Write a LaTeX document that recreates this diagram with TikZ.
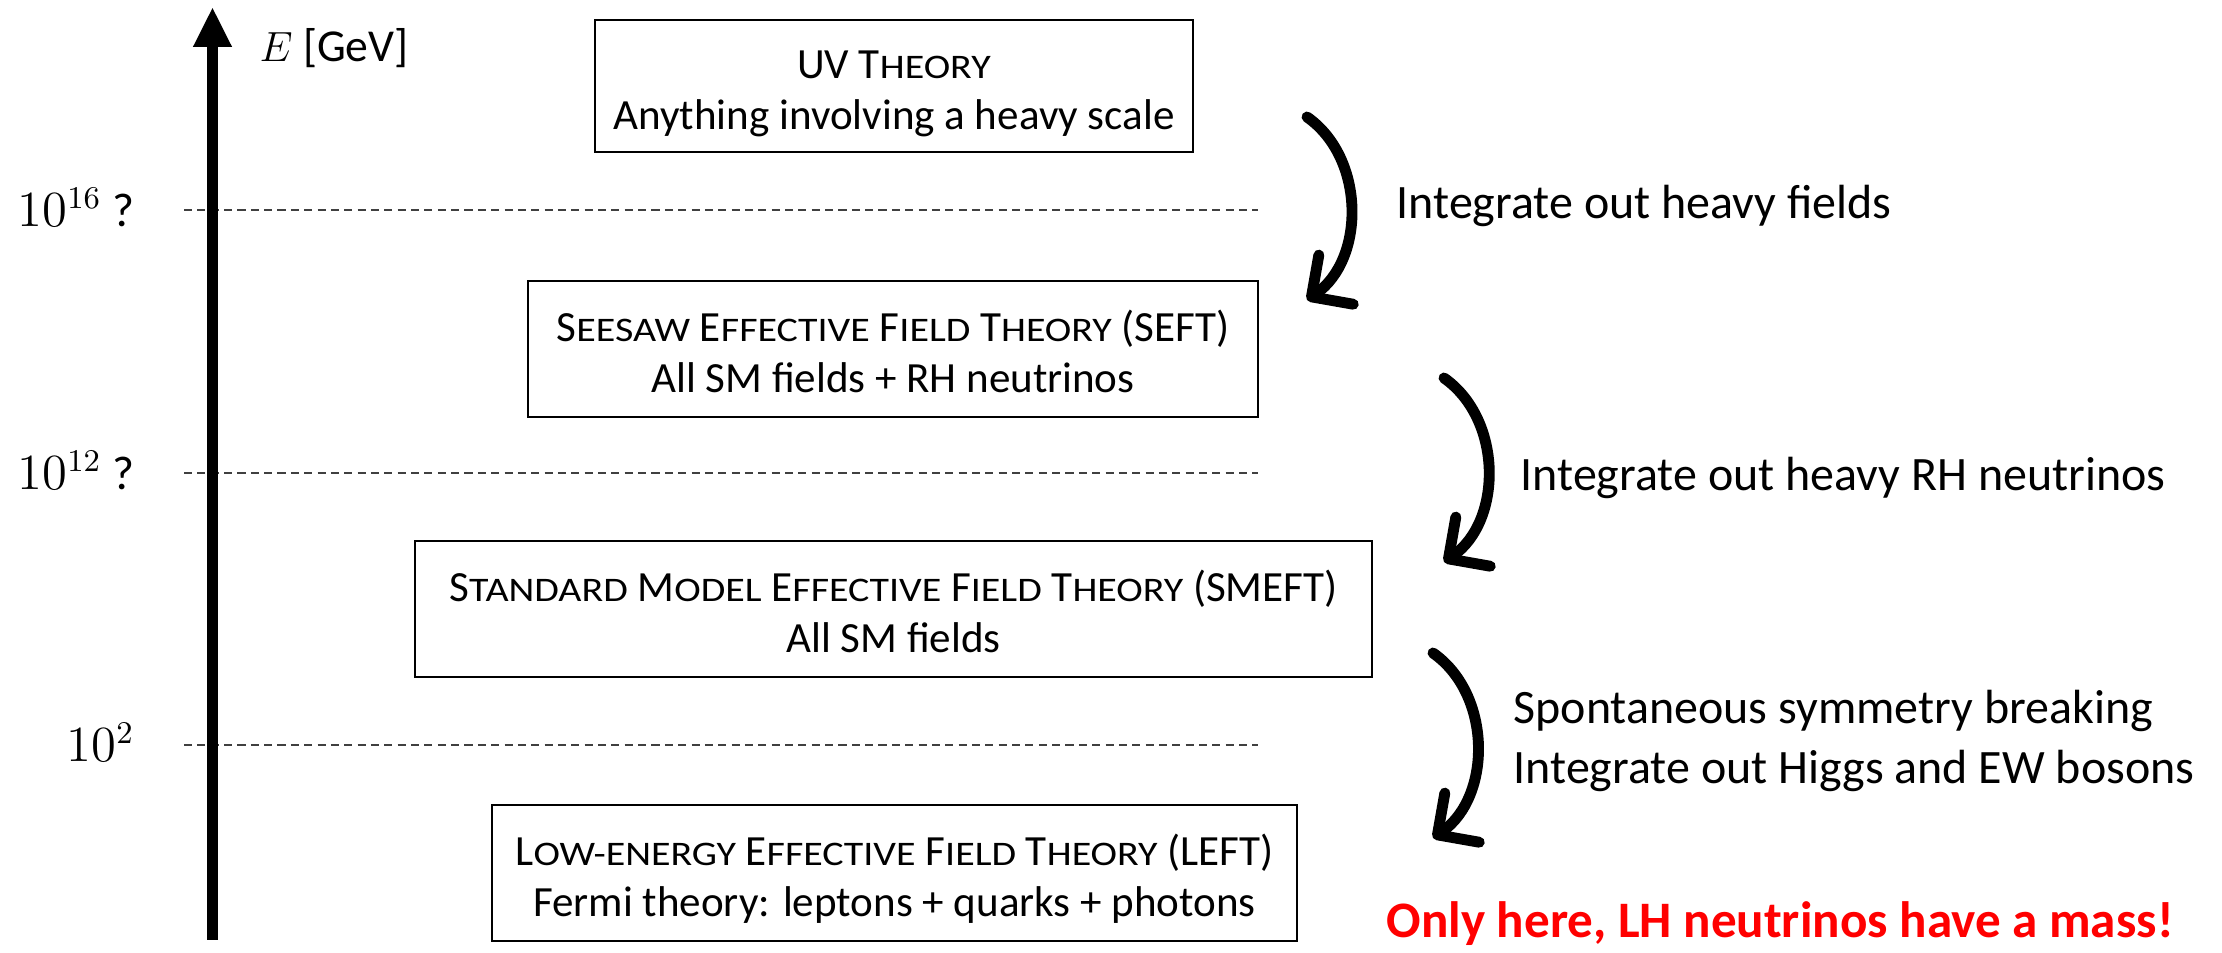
\documentclass[tikz,border=0pt]{standalone}
\usepackage{fontspec}
\usepackage{graphicx}
\setmainfont{Carlito}
\usetikzlibrary{arrows.meta}

% small caps: smaller capitals, a bit wider
\newcommand{\lowcaps}[1]{\scalebox{1.16}[1]{\fontsize{9.8}{14}\selectfont #1}}
% two lines in a box, same height and depth in every box
\newcommand{\boxlines}[2]{\rule{0pt}{0.52cm}#1\\#2\rule[-0.16cm]{0pt}{0.16cm}}

\tikzset{
  theory/.style={draw, line width=0.8pt, align=center, inner ysep=0pt, minimum height=1.36cm,
    font=\fontsize{12.25}{14.75}\selectfont},
  scaleline/.style={black!75, line width=0.5pt, dash pattern=on 2.3pt off 1.5pt},
  flow/.style={line width=3.1pt, line cap=round,
    -{Straight Barb[length=3mm,width=6mm,line cap=round,line join=round]}},
  sidenote/.style={anchor=west, align=left, inner sep=0pt, font=\fontsize{13.65}{16.9}\selectfont},
  ticklabel/.style={anchor=base east, inner sep=0pt, font=\fontsize{13.5}{16}\selectfont},
}

\begin{document}
\begin{tikzpicture}
  \useasboundingbox (0,0) rectangle (22.22,9.53);

  % เส้นประระดับพลังงาน
  \draw[scaleline] (1.84,7.43) -- (12.58,7.43);
  \draw[scaleline] (1.84,4.80) -- (12.58,4.80);
  \draw[scaleline] (1.84,2.08) -- (12.58,2.08);

  \node[ticklabel] (e16) at (1.35,7.26) {$10^{16}$ ?};
  \node[ticklabel] (e12) at (1.35,4.63) {$10^{12}$ ?};
  \node[ticklabel] (e2) at (1.35,1.91) {$10^{2}$};

  % แกนพลังงาน
  \draw[line width=3.3pt, -{Triangle[length=4mm,width=3.6mm]}] (2.125,0.13) -- (2.125,9.46);
  \node[anchor=base west, inner sep=0pt, font=\fontsize{13}{16}\selectfont] (energy) at (2.59,8.91) {$E$ [GeV]};

  % กล่องทฤษฎี
  \node[theory, minimum width=5.98cm, minimum height=1.32cm] (uv) at (8.94,8.67)
    {\boxlines{UV T\lowcaps{HEORY}}{Anything involving a heavy scale}};
  \node[theory, minimum width=7.30cm] (seft) at (8.93,6.04)
    {\boxlines{S\lowcaps{EESAW} E\lowcaps{FFECTIVE} F\lowcaps{IELD} T\lowcaps{HEORY} (SEFT)}{All SM fields + RH neutrinos}};
  \node[theory, minimum width=9.57cm] (smeft) at (8.935,3.44)
    {\boxlines{S\lowcaps{TANDARD} M\lowcaps{ODEL} E\lowcaps{FFECTIVE} F\lowcaps{IELD} T\lowcaps{HEORY} (SMEFT)}{All SM fields}};
  \node[theory, minimum width=8.05cm] (left) at (8.945,0.80)
    {\boxlines{L\lowcaps{OW-ENERGY} E\lowcaps{FFECTIVE} F\lowcaps{IELD} T\lowcaps{HEORY} (LEFT)}{Fermi theory: leptons + quarks + photons}};

  % ลูกศรโค้ง
  \coordinate (a1top) at (13.07,8.36);
  \coordinate (a1tip) at (13.07,6.53);
  \coordinate (a2top) at (14.44,5.75);
  \coordinate (a2tip) at (14.44,3.91);
  \coordinate (a3top) at (14.33,3.00);
  \coordinate (a3tip) at (14.33,1.15);
  \draw[flow] (a1top) to[bend left=55] (a1tip);
  \draw[flow] (a2top) to[bend left=55] (a2tip);
  \draw[flow] (a3top) to[bend left=55] (a3tip);

  \node[sidenote] (n1) at (13.96,7.47) {Integrate out heavy fields};
  \node[sidenote] (n2) at (15.20,4.75) {Integrate out heavy RH neutrinos};
  \node[sidenote] (n3) at (15.13,2.12) {Spontaneous symmetry breaking\\Integrate out Higgs and EW bosons};

  \node[anchor=base, text=red, font=\fontsize{14.55}{17}\selectfont\bfseries] (mass) at (17.80,0.15)
    {Only here, LH neutrinos have a mass!};
\end{tikzpicture}
\end{document}
